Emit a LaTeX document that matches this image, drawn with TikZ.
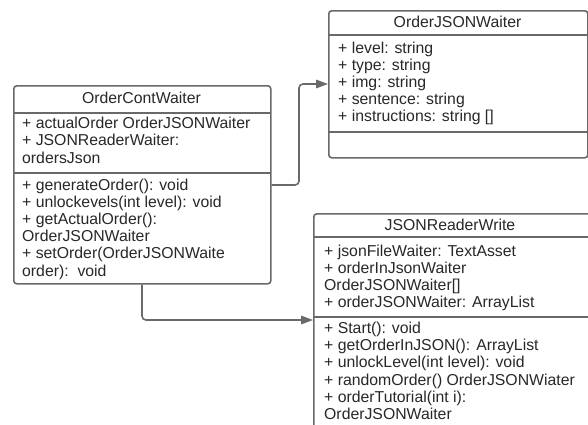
\documentclass[tikz,border=0pt]{standalone}
\usepackage{fontspec}
\setmainfont{Liberation Sans}
\usetikzlibrary{arrows.meta}
\definecolor{linec}{RGB}{105,105,105}
\definecolor{textc}{RGB}{40,40,40}
\tikzset{
  box/.style={draw=linec, line width=1.6pt, rounded corners=3pt, fill=white, anchor=north west, inner sep=0pt},
  divider/.style={draw=linec, line width=1.6pt},
  txt/.style={font=\fontsize{15.8}{17.3}\selectfont, text=textc, inner sep=0pt, anchor=base west},
  ttl/.style={font=\fontsize{15.8}{17.3}\selectfont, text=textc, inner sep=0pt, anchor=base},
  conn/.style={draw=linec, line width=1.6pt, rounded corners=4pt, -{Triangle[length=12pt,width=8.5pt]}}
}
\begin{document}
\begin{tikzpicture}[x=1pt,y=-1pt]
\useasboundingbox (0,0) rectangle (588,424);
\fill[white] (0,0) rectangle (588,424);
\begin{scope}
\clip (0,0) rectangle (588,424);
% OrderContWaiter
\node[box, minimum width=257pt, minimum height=198pt] (oc) at (13,85) {};
\draw[divider] (13,113) -- (270,113);
\draw[divider] (13,173) -- (270,173);
\node[ttl] (octitle) at (141.5,103.5) {OrderContWaiter};
\foreach \t [count=\i] in {{+ actualOrder OrderJSONWaiter},{+ JSONReaderWaiter:},{ordersJson}}
  \node[txt] (oca\i) at (22,{128.5+17.3*(\i-1)}) {\t};
\foreach \t [count=\i] in {{+ generateOrder(): void},{+ unlockevels(int level): void},{+ getActualOrder():},{OrderJSONWaiter},{+ setOrder(OrderJSONWaite},{order):\ \ void}}
  \node[txt] (ocm\i) at (22,{190.5+17.1*(\i-1)}) {\t};
% OrderJSONWaiter
\node[box, minimum width=259pt, minimum height=147pt] (ojw) at (328,10) {};
\draw[divider] (328,35) -- (587,35);
\draw[divider] (328,132) -- (587,132);
\node[ttl] (ojwtitle) at (457.5,27.5) {OrderJSONWaiter};
\foreach \t [count=\i] in {{+ level: string},{+ type: string},{+ img: string},{+ sentence: string},{+ instructions: string []}}
  \node[txt] (ojwa\i) at (338,{53.5+17*(\i-1)}) {\t};
% JSONReaderWrite
\node[box, minimum width=278pt, minimum height=230pt] (jrw) at (313,213) {};
\draw[divider] (313,237) -- (591,237);
\draw[divider] (313,317) -- (591,317);
\node[ttl] (jrwtitle) at (450,230.5) {JSONReaderWrite};
\foreach \t [count=\i] in {{+ jsonFileWaiter: TextAsset},{+ orderInJsonWaiter},{OrderJSONWaiter[]},{+ orderJSONWaiter: ArrayList}}
  \node[txt] (jrwa\i) at (324,{256.5+17.1*(\i-1)}) {\t};
\foreach \t [count=\i] in {{+ Start(): void},{+ getOrderInJSON(): ArrayList},{+ unlockLevel(int level): void},{+ randomOrder() OrderJSONWiater},{+ orderTutorial(int i):},{OrderJSONWaiter}}
  \node[txt] (jrwm\i) at (324,{333.5+17.2*(\i-1)}) {\t};
% connectors
\coordinate (bend1) at (299,185);
\coordinate (bend2) at (299,84);
\draw[conn] (oc.east |- bend1) -- (bend1) -- (bend2) -- (ojw.west |- bend2);
\coordinate (bend3) at (142,320);
\draw[conn] (oc.south -| bend3) -- (bend3) -- (jrw.west |- bend3);
\end{scope}
\end{tikzpicture}
\end{document}
